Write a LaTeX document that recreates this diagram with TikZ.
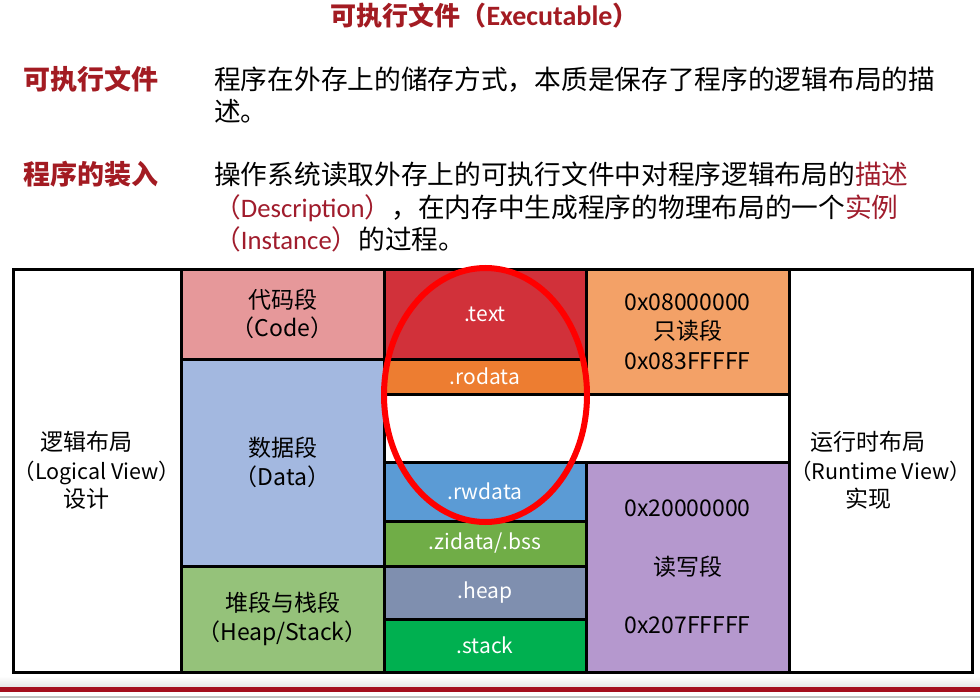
\documentclass[tikz,border=0pt]{standalone}
\usepackage{fontspec}
\setmainfont{Noto Sans CJK SC}
\newfontfamily\cali{Carlito}

\definecolor{titlered}{HTML}{A31B22}
\definecolor{accentred}{HTML}{A01C2C}
\definecolor{codepink}{HTML}{E6989A}
\definecolor{datablue}{HTML}{A3B8E0}
\definecolor{hsgreen}{HTML}{95C27A}
\definecolor{textred}{HTML}{D1313A}
\definecolor{rodataorange}{HTML}{ED7D31}
\definecolor{rwblue}{HTML}{5B9BD5}
\definecolor{zigreen}{HTML}{70AD47}
\definecolor{heapgray}{HTML}{7F8FAF}
\definecolor{stackgreen}{HTML}{00B050}
\definecolor{roorange}{HTML}{F3A167}
\definecolor{rwpurple}{HTML}{B598CE}
\definecolor{barred}{HTML}{A50F1E}
\definecolor{ringred}{HTML}{FF0000}

% a centred line that does not widen its cell
\newcommand\thinline[1]{\makebox[0pt][c]{#1}}

\begin{document}
\begin{tikzpicture}[x=1pt,y=-1pt,
  cell/.style={draw=black, line width=3pt, rectangle, inner sep=0pt, align=center,
    font=\fontsize{23}{28.5}\selectfont},
  seg/.style={cell, text=white, font=\fontsize{21}{25}\selectfont},
  body/.style={anchor=base west, inner sep=0pt, font=\fontsize{26.7}{32}\selectfont},
  head/.style={anchor=base west, inner sep=0pt, text=titlered,
    font=\fontsize{27}{32}\selectfont\bfseries},
]
% page
\fill[white] (0,0) rectangle (980,698);
\useasboundingbox (0,0) rectangle (980,698);

% heading and explanatory text
\node[anchor=base, inner sep=0pt, text=titlered, font=\fontsize{26}{30}\selectfont\bfseries]
  (title) at (484.5,26) {可执行文件（{\cali\fontsize{28}{30}\selectfont Executable}）};

\node[head] (h1) at (23,90) {可执行文件};
\node[body] (p1a) at (214,90) {程序在外存上的储存方式，本质是保存了程序的逻辑布局的描};
\node[body] (p1b) at (214,122) {述。};

\node[head] (h2) at (23,185) {程序的装入};
\node[body] (p2a) at (214,185) {操作系统读取外存上的可执行文件中对程序逻辑布局的\textcolor{accentred}{描述}};
\node[body] (p2b) at (214,217) {\textcolor{accentred}{（{\cali Description}）}，在内存中生成程序的物理布局的一个\textcolor{accentred}{实例}};
\node[body] (p2c) at (214,249) {\textcolor{accentred}{（{\cali Instance}）}的过程。};

% logical view column
\node[cell, fill=white, minimum width=168, minimum height=403] (logical) at (97,470.5)
  {\thinline{逻辑布局\hspace*{22pt}}\\
   \thinline{\fontsize{21.5}{28.5}\selectfont（Logical View）}\\
   \thinline{设计\hspace*{22pt}}};

% segments of the logical layout
\node[cell, fill=codepink, minimum width=203, minimum height=90] (code) at (282.5,314)
  {代码段\\（Code）};
\node[cell, fill=datablue, minimum width=203, minimum height=207] (data) at (282.5,462.5)
  {数据段\\（Data）};
\node[cell, fill=hsgreen, minimum width=203, minimum height=106] (heapstack) at (282.5,619)
  {堆段与栈段\\（Heap/Stack）};

% sections of the executable
\node[seg, fill=textred, minimum width=202, minimum height=90] (text) at (485,314) {.text};
\node[seg, fill=rodataorange, minimum width=202, minimum height=35] (rodata) at (485,376.5) {.rodata};
\node[cell, fill=white, minimum width=405, minimum height=68] (gap) at (586.5,428) {};
\node[seg, fill=rwblue, minimum width=202, minimum height=59] (rwdata) at (485,491.5) {.rwdata};
\node[seg, fill=zigreen, minimum width=202, minimum height=45] (zidata) at (485,543.5) {.zidata/.bss};
\node[seg, fill=heapgray, minimum width=202, minimum height=53] (heap) at (485,592.5) {.heap};
\node[seg, fill=stackgreen, minimum width=202, minimum height=53] (stack) at (485,645.5) {.stack};

% address ranges
\node[cell, fill=roorange, minimum width=203, minimum height=125] (ro) at (687.5,331.5)
  {0x08000000\\[1pt]只读段\\[1pt]0x083FFFFF};
\node[cell, fill=rwpurple, minimum width=203, minimum height=210] (rw) at (687.5,567)
  {0x20000000\\[30pt]读写段\\[30pt]0x207FFFFF};

% runtime view column
\node[cell, fill=white, minimum width=183, minimum height=403] (runtime) at (880.5,470.5)
  {\thinline{运行时布局\hspace*{25pt}}\\
   \thinline{\fontsize{21.5}{28.5}\selectfont（Runtime View）}\\
   \thinline{实现\hspace*{25pt}}};

% highlight ring
\draw[ringred, line width=6pt] (485.5,395) ellipse [x radius=101.5, y radius=127];

% footer bar
\shade[top color=white, bottom color=black!10] (0,676) rectangle (980,687);
\fill[barred] (0,687) rectangle (980,692);
\fill[black!25] (0,695.5) rectangle (980,698);
\end{tikzpicture}
\end{document}
